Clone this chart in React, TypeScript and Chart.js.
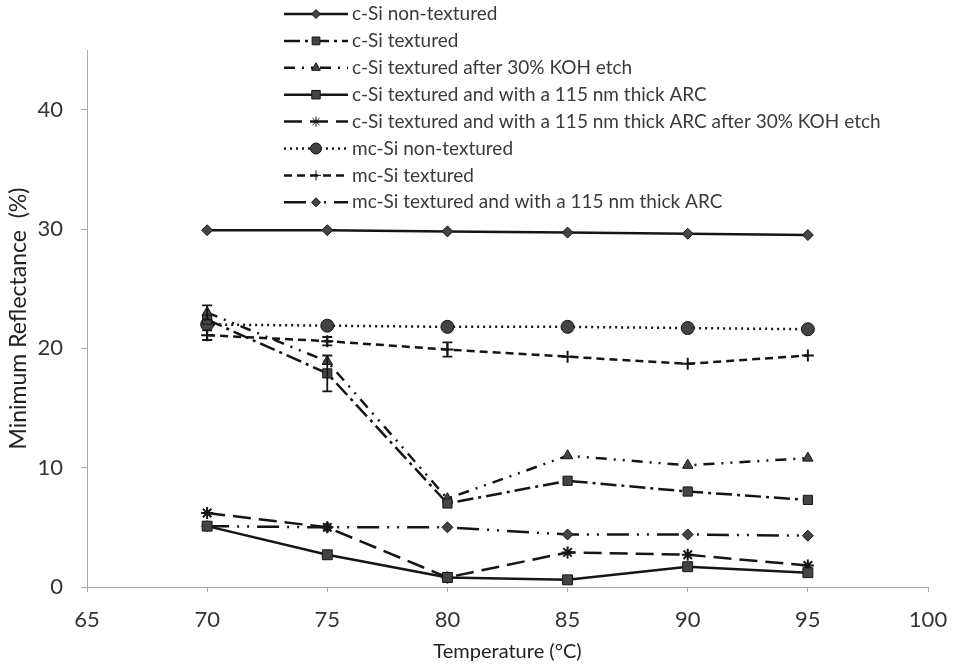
import React, { useEffect, useRef } from "react";
import { Chart, registerables } from "chart.js";
import { drawPoint } from "chart.js/helpers";

Chart.register(...registerables);

const temperatures = [70, 75, 80, 85, 90, 95];

const cSiNonTextured = [29.9, 29.9, 29.8, 29.7, 29.6, 29.5];
const cSiTextured = [22.4, 17.9, 7.0, 8.9, 8.0, 7.3];
const cSiTexturedKOH = [23.0, 18.9, 7.4, 11.0, 10.2, 10.8];
const cSiTexturedARC = [5.1, 2.7, 0.8, 0.6, 1.7, 1.2];
const cSiTexturedARCKOH = [6.2, 5.0, 0.8, 2.9, 2.7, 1.8];
const mcSiNonTextured = [22.0, 21.9, 21.8, 21.8, 21.7, 21.6];
const mcSiTextured = [21.1, 20.6, 19.9, 19.3, 18.7, 19.4];
const mcSiTexturedARC = [5.1, 5.0, 5.0, 4.4, 4.4, 4.3];

// error bar half-widths (0 = none)
const cSiTexturedErr = [0.0, 1.5, 0.0, 0.0, 0.0, 0.0];
const cSiTexturedKOHErr = [0.6, 0.0, 0.0, 0.0, 0.0, 0.0];
const mcSiTexturedErr = [0.4, 0.35, 0.6, 0.0, 0.0, 0.0];

const seriesLabels = [
  "c-Si non-textured",
  "c-Si textured",
  "c-Si textured after 30% KOH etch",
  "c-Si textured and with a 115 nm thick ARC",
  "c-Si textured and with a 115 nm thick ARC after 30% KOH etch",
  "mc-Si non-textured",
  "mc-Si textured",
  "mc-Si textured and with a 115 nm thick ARC",
];

const xTicks = [65, 70, 75, 80, 85, 90, 95, 100];
const yTicks = [0, 10, 20, 30, 40];

const FONT = "Lato, 'Open Sans', sans-serif";
const LINE = "#151515";
const FILL = "#444";

const styles = [
  { dash: [], point: "rectRot", r: 5.5 },
  { dash: [16, 5, 3, 5], point: "rect", r: 6.5 },
  { dash: [11, 7, 2, 7, 2, 7], point: "triangle", r: 6 },
  { dash: [], point: "rect", r: 7 },
  { dash: [18, 8], point: "star", r: 6 },
  { dash: [2, 4], point: "circle", r: 6.5 },
  { dash: [8, 5], point: "cross", r: 6 },
  { dash: [22, 8, 2, 8, 2, 8], point: "rectRot", r: 5.5 },
];

const allValues = [
  cSiNonTextured,
  cSiTextured,
  cSiTexturedKOH,
  cSiTexturedARC,
  cSiTexturedARCKOH,
  mcSiNonTextured,
  mcSiTextured,
  mcSiTexturedARC,
];
const allErrors = [null, cSiTexturedErr, cSiTexturedKOHErr, null, null, null, mcSiTexturedErr, null];

const errorBarPlugin = {
  id: "errorBars",
  afterDatasetsDraw(chart: any) {
    const ctx = chart.ctx;
    const xs = chart.scales.x;
    const ys = chart.scales.y;
    ctx.save();
    ctx.strokeStyle = LINE;
    ctx.lineWidth = 1.8;
    ctx.setLineDash([]);
    allErrors.forEach((errs, i) => {
      if (!errs) return;
      errs.forEach((e, j) => {
        if (!e) return;
        const v = allValues[i][j];
        const px = xs.getPixelForValue(temperatures[j]);
        const top = ys.getPixelForValue(v + e);
        const bot = ys.getPixelForValue(v - e);
        ctx.beginPath();
        ctx.moveTo(px, top);
        ctx.lineTo(px, bot);
        ctx.moveTo(px - 5, top);
        ctx.lineTo(px + 5, top);
        ctx.moveTo(px - 5, bot);
        ctx.lineTo(px + 5, bot);
        ctx.stroke();
      });
    });
    ctx.restore();
  },
};

const legendPlugin = {
  id: "customLegend",
  afterDraw(chart: any) {
    const ctx = chart.ctx;
    ctx.save();
    const x0 = 284;
    const x1 = 348;
    const y0 = 14;
    const dy = 26.9;
    seriesLabels.forEach((label, i) => {
      const y = y0 + i * dy;
      const st = styles[i];
      ctx.strokeStyle = LINE;
      ctx.lineWidth = 2.5;
      ctx.setLineDash(st.dash);
      ctx.beginPath();
      ctx.moveTo(x0, y);
      ctx.lineTo(x1, y);
      ctx.stroke();
      ctx.setLineDash([]);
      ctx.fillStyle = FILL;
      ctx.strokeStyle = LINE;
      ctx.lineWidth = 1;
      drawPoint(ctx, { pointStyle: st.point, radius: st.r - 1, rotation: 0, borderWidth: 1 }, (x0 + x1) / 2, y);
      ctx.fillStyle = "#3a3a3a";
      ctx.font = `19px ${FONT}`;
      ctx.textAlign = "left";
      ctx.textBaseline = "middle";
      ctx.fillText(label, 352, y);
    });
    ctx.restore();
  },
};

export default function App() {
  const ref = useRef<HTMLCanvasElement | null>(null);

  useEffect(() => {
    document.body.style.margin = "0";
    if (!ref.current) return;
    const datasets = allValues.map((vals, i) => ({
      label: seriesLabels[i],
      data: temperatures.map((t, j) => ({ x: t, y: vals[j] })),
      borderColor: LINE,
      backgroundColor: FILL,
      borderWidth: 2.5,
      borderDash: styles[i].dash,
      pointStyle: styles[i].point,
      pointRadius: styles[i].r,
      pointBorderColor: LINE,
      pointBackgroundColor: FILL,
      pointBorderWidth: styles[i].point === "cross" || styles[i].point === "star" ? 2 : 1,
      tension: 0,
      fill: false,
    }));
    const chart = new Chart(ref.current, {
      type: "line",
      data: { datasets },
      plugins: [errorBarPlugin, legendPlugin],
      options: {
        animation: false,
        responsive: false,
        layout: { padding: { top: 50, right: 27, left: 0, bottom: 0 } },
        plugins: { legend: { display: false }, tooltip: { enabled: false }, title: { display: false } },
        scales: {
          x: {
            type: "linear",
            min: 65,
            max: 100,
            afterBuildTicks: (s: any) => {
              s.ticks = xTicks.map((v) => ({ value: v }));
            },
            afterFit: (s: any) => {
              s.height = 83;
              s.paddingLeft = 0;
              s.paddingRight = 0;
            },
            ticks: {
              color: "#333",
              font: { family: FONT, size: 22 },
              padding: 15,
              maxRotation: 0,
            },
            grid: { drawOnChartArea: false, drawTicks: true, tickLength: 5, color: "#aaa" },
            border: { color: "#aaa", width: 1 },
            title: {
              display: true,
              text: "Temperature (°C)",
              color: "#222",
              font: { family: FONT, size: 20 },
              padding: { top: 0, bottom: 6 },
            },
          },
          y: {
            type: "linear",
            min: 0,
            max: 45,
            afterBuildTicks: (s: any) => {
              s.ticks = yTicks.map((v) => ({ value: v }));
            },
            afterFit: (s: any) => {
              s.width = 87;
              s.paddingTop = 0;
              s.paddingBottom = 0;
            },
            ticks: {
              color: "#333",
              font: { family: FONT, size: 22 },
              padding: 18,
            },
            grid: { drawOnChartArea: false, drawTicks: true, tickLength: 6, color: "#aaa" },
            border: { color: "#aaa", width: 1 },
            title: {
              display: true,
              text: "Minimum Reflectance  (%)",
              color: "#222",
              font: { family: FONT, size: 23 },
              padding: { top: 5, bottom: 0 },
            },
          },
        },
      },
    } as any);
    return () => chart.destroy();
  }, []);

  return (
    <div style={{ width: 955, height: 670, background: "#fff" }}>
      <canvas ref={ref} width={955} height={670} style={{ display: "block" }} />
    </div>
  );
}
